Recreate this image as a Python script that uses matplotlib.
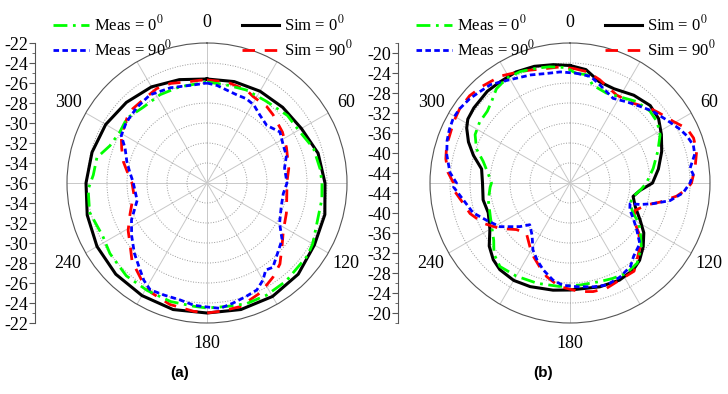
import numpy as np
import matplotlib.pyplot as plt
from matplotlib.ticker import FixedLocator

plt.rcParams['font.family'] = ['Liberation Serif', 'DejaVu Serif']
plt.rcParams['mathtext.fontset'] = 'stix'

# ---- panel (a) : angle (deg) / level (dB) ----
ang_a_meas0 = [0, 11, 23, 36, 50, 61, 72, 83, 90, 98, 110, 120, 126, 141, 152, 162, 171, 180,
               186, 197, 209, 221, 234, 243, 256, 267, 274, 283, 291, 300, 309, 320, 332, 344, 356]
a_meas0 = [-25.9, -26.0, -25.9, -25.9, -25.5, -25.4, -24.8, -24.6, -24.5, -24.4, -24.3, -23.8, -23.6,
           -23.4, -23.3, -23.3, -23.5, -23.5, -23.6, -23.6, -23.7, -23.7, -24.0, -24.3, -23.9, -24.1,
           -24.6, -24.7, -25.6, -25.9, -25.7, -26.1, -26.0, -26.0, -26.0]

ang_a_meas90 = [0, 6, 12, 19, 25, 31, 38, 46, 55, 64, 71, 79, 90, 98, 108, 119, 127, 142, 146, 150,
                155, 161, 168, 174, 180, 186, 193, 201, 208, 213, 219, 226, 235, 244, 256, 271, 278,
                285, 293, 299, 307, 317, 327, 339, 352]
a_meas90 = [-26.0, -26.2, -26.5, -26.7, -26.7, -26.9, -27.4, -27.7, -27.1, -27.5, -27.6, -28.1, -28.0,
            -28.3, -28.2, -27.7, -26.6, -25.3, -25.5, -24.8, -24.2, -24.0, -23.7, -23.4, -23.6, -23.7,
            -24.0, -24.0, -23.9, -24.4, -25.2, -25.9, -26.8, -27.6, -28.8, -28.6, -28.2, -27.7, -27.1,
            -26.2, -25.9, -25.7, -25.5, -25.8, -26.1]

ang_a_sim0 = [0, 15, 30, 45, 60, 75, 90, 105, 120, 135, 150, 165, 180, 195, 210, 225, 240, 255,
              270, 285, 300, 315, 330, 345]
a_sim0 = [-25.6, -25.5, -25.4, -25.3, -25.1, -24.5, -24.2, -23.8, -23.6, -23.1, -22.9, -22.9, -23.0,
          -22.9, -23.0, -23.1, -23.3, -23.6, -23.9, -24.1, -24.3, -24.6, -24.9, -25.3]

ang_a_sim90 = [0, 11, 23, 28, 38, 44, 56, 66, 80, 89, 100, 111, 122, 130, 138, 145, 154, 165, 174,
               180, 186, 197, 207, 214, 219, 224, 230, 239, 248, 262, 270, 276, 284, 292, 299, 309,
               315, 323, 332, 340, 349, 356]
a_sim90 = [-25.7, -25.7, -25.9, -26.2, -26.3, -26.5, -26.9, -27.3, -27.7, -28.0, -27.9, -27.5, -27.0,
           -26.2, -25.1, -24.5, -23.8, -23.2, -23.1, -23.0, -23.1, -23.3, -23.7, -24.3, -24.8, -25.2,
           -26.0, -26.8, -27.7, -28.6, -28.5, -28.1, -27.4, -26.8, -26.2, -25.7, -25.5, -25.5, -25.3,
           -25.4, -25.7, -25.7]

# ---- panel (b) ----
ang_b_meas0 = [3, 9, 13, 22, 30, 39, 48, 55, 62, 70, 80, 90, 96, 102, 109, 116, 120, 127, 132, 140,
               148, 156, 163, 174, 186, 198, 210, 220, 227, 233, 241, 247, 258, 267, 270, 276, 284,
               290, 297, 304, 311, 316, 322, 329, 336, 344, 350, 358]
b_meas0 = [-24.0, -24.1, -25.9, -26.6, -26.1, -25.0, -24.5, -24.7, -25.6, -27.3, -29.1, -30.7, -31.9,
           -33.1, -33.3, -31.9, -30.1, -28.3, -26.8, -25.1, -24.7, -25.1, -25.4, -25.5, -25.2, -24.9,
           -24.5, -24.2, -25.2, -26.9, -28.1, -28.7, -29.3, -30.0, -30.3, -29.6, -28.1, -26.1, -24.7,
           -24.2, -24.1, -23.4, -22.1, -21.5, -21.6, -22.1, -22.4, -22.9]

ang_b_meas90 = [3, 11, 17, 27, 35, 42, 49, 57, 64, 68, 73, 77, 83, 86, 90, 95, 100, 104, 107, 109,
                114, 120, 125, 131, 139, 144, 152, 160, 167, 176, 184, 190, 197, 203, 209, 216, 224,
                229, 238, 246, 253, 261, 268, 270, 275, 283, 289, 294, 299, 304, 310, 315, 321, 327,
                340, 348, 355]
b_meas90 = [-24.0, -24.3, -25.5, -27.0, -26.2, -25.3, -24.1, -22.9, -21.5, -20.8, -20.2, -20.4, -21.8,
            -21.3, -22.0, -23.3, -25.7, -28.9, -31.3, -33.3, -32.9, -31.3, -29.7, -27.5, -26.6, -25.4,
            -24.7, -24.3, -24.7, -25.2, -25.5, -26.3, -27.8, -29.2, -30.7, -33.1, -34.4, -32.7, -29.5,
            -27.7, -25.7, -24.4, -22.7, -23.3, -21.9, -20.7, -20.0, -19.6, -19.3, -19.4, -19.8, -20.3,
            -20.7, -21.7, -23.0, -23.6, -23.7]

ang_b_sim0 = [0, 8, 16, 25, 36, 46, 54, 62, 71, 81, 90, 96, 102, 110, 118, 124, 131, 138, 144, 153,
              164, 180, 189, 201, 210, 219, 225, 232, 240, 250, 259, 270, 279, 286, 292, 298, 302,
              308, 318, 325, 334, 343, 352]
b_sim0 = [-22.5, -23.1, -24.9, -25.2, -24.3, -23.7, -24.1, -25.3, -26.6, -28.1, -29.5, -31.9, -33.1,
          -32.1, -30.1, -28.2, -26.6, -25.2, -24.5, -24.2, -24.4, -24.6, -24.3, -23.8, -23.5, -23.7,
          -24.3, -25.5, -27.5, -28.6, -28.3, -28.5, -28.1, -25.9, -24.1, -22.6, -21.9, -21.6, -21.3,
          -21.4, -21.3, -21.6, -22.1]

ang_b_sim90 = [2, 9, 16, 28, 38, 47, 52, 59, 65, 70, 76, 83, 90, 93, 97, 102, 106, 113, 120, 126,
               132, 139, 144, 153, 161, 168, 175, 186, 194, 200, 206, 212, 221, 229, 237, 245, 253,
               259, 267, 270, 275, 281, 287, 292, 298, 304, 311, 318, 327, 333, 340, 348, 355]
b_sim90 = [-23.1, -23.5, -24.5, -26.1, -25.7, -24.1, -23.3, -22.0, -20.2, -19.7, -19.9, -20.8, -21.7,
           -22.6, -24.5, -27.6, -30.1, -31.9, -31.3, -29.0, -27.1, -25.6, -24.2, -24.2, -23.7, -23.8,
           -24.2, -25.2, -26.7, -28.2, -29.5, -30.9, -32.7, -31.8, -29.3, -26.9, -25.1, -24.3, -22.6,
           -22.7, -21.5, -20.7, -20.2, -20.1, -19.7, -19.4, -19.4, -19.9, -20.5, -21.3, -22.0, -22.6,
           -22.7]

# scale labels on the left (mirrored about the centre)
scale_a = [-22, -24, -26, -28, -30, -32, -34, -36]
scale_b = [-20, -24, -28, -32, -36, -40, -44]

angle_labels = [0, 60, 120, 180, 240, 300]
legend_names = ['Meas = 0$^0$', 'Meas = 90$^0$', 'Sim = 0$^0$', 'Sim = 90$^0$']


def closed(ang, val):
    # wrap the pattern round so it closes at 360
    th = np.deg2rad(np.append(ang, ang[0] + 360))
    return th, np.append(val, val[0])


fig = plt.figure(figsize=(7.28, 3.94), dpi=100)


def panel(cx, r_center, r_outer, ring_step, scale, minor_step, tag, meas0, meas90, sim0, sim90):
    w, h = 280 / 728, 280 / 394
    ax = fig.add_axes([(cx - 140) / 728, 71 / 394, w, h], projection='polar')
    ax.set_theta_zero_location('N')
    ax.set_theta_direction(-1)
    ax.set_ylim(r_center, r_outer)

    ax.set_xticks(np.deg2rad(np.arange(0, 360, 30)))
    ax.set_xticklabels([])
    ax.tick_params(axis='x', direction='in', length=5, color='#555555', width=0.8)
    ax.xaxis.grid(True, ls='-', color='#c8c8c8', lw=0.7)
    ax.set_yticks(np.arange(r_center + ring_step, r_outer, ring_step))
    ax.set_yticklabels([])
    ax.yaxis.grid(True, ls=':', color='#9a9a9a', lw=0.7)
    ax.spines['polar'].set_color('#555555')
    ax.spines['polar'].set_linewidth(0.8)

    l_sim0, = ax.plot(*closed(*sim0), color='black', lw=2.2)
    l_sim90, = ax.plot(*closed(*sim90), color='#ff0000', lw=2.0, dashes=(4.5, 3.5))
    l_meas0, = ax.plot(*closed(*meas0), color='#00ff00', lw=2.0, dashes=(5, 2, 1, 2))
    l_meas90, = ax.plot(*closed(*meas90), color='#0000ff', lw=2.0, dashes=(2, 1.2))

    off = 0.145 * (r_outer - r_center)
    for a in angle_labels:
        ax.text(np.deg2rad(a), r_outer + off, str(a), ha='center', va='center',
                fontsize=13, clip_on=False)

    ax.legend([l_meas0, l_meas90, l_sim0, l_sim90], legend_names, ncol=2, loc='center',
              bbox_to_anchor=(0.485, 1.02), frameon=False, fontsize=12, handlelength=2.2,
              handletextpad=0.3, columnspacing=4.2, labelspacing=0.3, borderpad=0)

    # mirrored radial scale drawn on the left
    span = r_outer - r_center
    ax_l = fig.add_axes([(cx - 172) / 728, 71 / 394, 0.0001, h])
    ax_l.set_ylim(-span, span)
    ax_l.patch.set_visible(False)
    for s in ['top', 'right', 'bottom']:
        ax_l.spines[s].set_visible(False)
    ax_l.spines['left'].set_color('#555555')
    ax_l.set_xticks([])
    pos, labels = [], []
    for v in scale:
        d = v - r_center
        for p in sorted({d, -d}):
            pos.append(p)
            labels.append('%d' % v)
    ax_l.set_yticks(pos)
    ax_l.set_yticklabels(labels, fontsize=13)
    ax_l.yaxis.set_minor_locator(FixedLocator(np.arange(-span, span + 0.1, minor_step)))
    ax_l.tick_params(axis='y', which='major', length=4, pad=1, color='#555555')
    ax_l.tick_params(axis='y', which='minor', length=2.5, color='#555555')

    fig.text((cx - 27) / 728, 1 - 373 / 394, tag, family='Liberation Sans', weight='bold',
             fontsize=11, ha='center', va='center')


panel(207, -36, -22, 2, scale_a, 1, '(a)',
      (ang_a_meas0, a_meas0), (ang_a_meas90, a_meas90), (ang_a_sim0, a_sim0), (ang_a_sim90, a_sim90))
panel(570, -46, -18, 4, scale_b, 2, '(b)',
      (ang_b_meas0, b_meas0), (ang_b_meas90, b_meas90), (ang_b_sim0, b_sim0), (ang_b_sim90, b_sim90))

fig.savefig('out.png', dpi=100)
